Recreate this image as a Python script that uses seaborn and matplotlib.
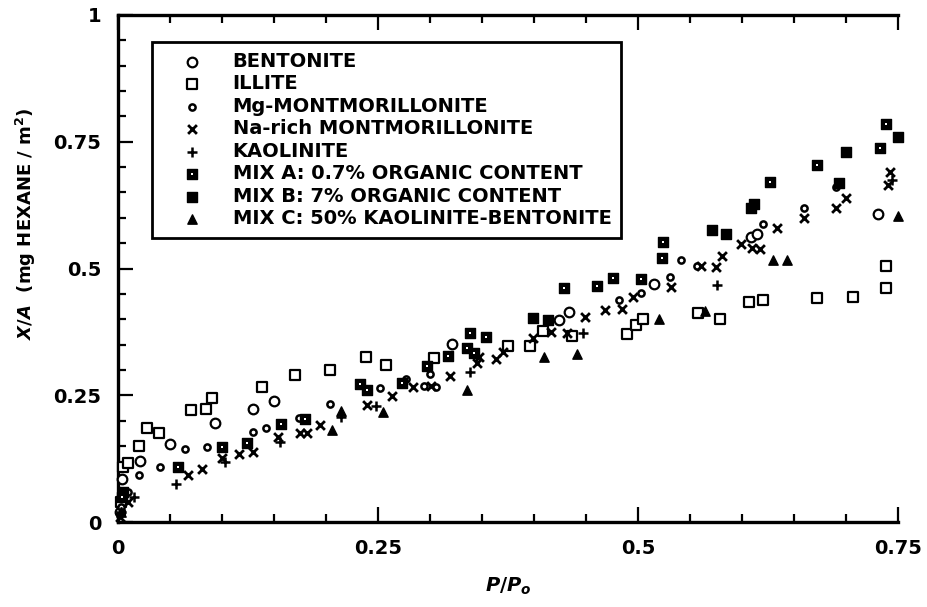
import matplotlib
matplotlib.use("Agg")
import matplotlib.pyplot as plt
import seaborn as sns
import pandas as pd
from matplotlib.ticker import MultipleLocator, FuncFormatter, FixedLocator
from matplotlib.legend_handler import HandlerTuple

# ---------------- data ----------------
bentonite_x = [0.002, 0.004, 0.021, 0.050, 0.093, 0.130, 0.150, 0.321, 0.424, 0.434, 0.515, 0.609, 0.614, 0.731]
bentonite_y = [0.020, 0.085, 0.120, 0.154, 0.195, 0.222, 0.239, 0.352, 0.398, 0.414, 0.470, 0.562, 0.569, 0.607]

illite_x = [0.003, 0.005, 0.010, 0.020, 0.028, 0.039, 0.070, 0.085, 0.090, 0.138, 0.170, 0.204, 0.238, 0.258,
            0.304, 0.375, 0.396, 0.409, 0.437, 0.489, 0.498, 0.505, 0.558, 0.579, 0.607, 0.620, 0.672, 0.707,
            0.738, 0.738]
illite_y = [0.040, 0.108, 0.117, 0.150, 0.186, 0.176, 0.220, 0.222, 0.244, 0.266, 0.290, 0.300, 0.326, 0.310,
            0.323, 0.347, 0.348, 0.377, 0.367, 0.371, 0.389, 0.400, 0.413, 0.400, 0.433, 0.438, 0.442, 0.444,
            0.461, 0.505]

mg_x = [0.003, 0.010, 0.020, 0.040, 0.064, 0.086, 0.130, 0.142, 0.174, 0.204, 0.252, 0.277, 0.294, 0.300,
        0.306, 0.482, 0.503, 0.531, 0.541, 0.557, 0.620, 0.660, 0.690]
mg_y = [0.030, 0.060, 0.093, 0.108, 0.144, 0.147, 0.177, 0.186, 0.206, 0.233, 0.265, 0.283, 0.268, 0.292,
        0.267, 0.438, 0.451, 0.483, 0.517, 0.505, 0.588, 0.620, 0.660]

na_x = [0.002, 0.010, 0.067, 0.081, 0.100, 0.116, 0.130, 0.154, 0.175, 0.182, 0.194, 0.239, 0.263, 0.284,
        0.301, 0.319, 0.345, 0.347, 0.363, 0.370, 0.399, 0.416, 0.432, 0.449, 0.468, 0.485, 0.495, 0.532,
        0.561, 0.575, 0.581, 0.599, 0.610, 0.617, 0.634, 0.660, 0.690, 0.700, 0.740, 0.742]
na_y = [0.010, 0.040, 0.093, 0.104, 0.126, 0.134, 0.139, 0.168, 0.175, 0.175, 0.191, 0.231, 0.249, 0.267,
        0.268, 0.288, 0.313, 0.326, 0.321, 0.336, 0.362, 0.375, 0.372, 0.405, 0.418, 0.420, 0.443, 0.463,
        0.505, 0.502, 0.525, 0.548, 0.540, 0.538, 0.579, 0.600, 0.620, 0.640, 0.665, 0.690]

kaol_x = [0.003, 0.015, 0.056, 0.103, 0.156, 0.214, 0.248, 0.338, 0.447, 0.576, 0.744]
kaol_y = [0.020, 0.050, 0.075, 0.119, 0.158, 0.208, 0.229, 0.296, 0.373, 0.468, 0.675]

mixa_x = [0.004, 0.058, 0.100, 0.124, 0.157, 0.180, 0.233, 0.239, 0.273, 0.297, 0.317, 0.336, 0.338, 0.342,
          0.354, 0.429, 0.461, 0.476, 0.503, 0.523, 0.524, 0.627, 0.672, 0.733, 0.738]
mixa_y = [0.050, 0.108, 0.147, 0.155, 0.193, 0.203, 0.272, 0.260, 0.275, 0.308, 0.327, 0.343, 0.373, 0.333,
          0.364, 0.461, 0.466, 0.481, 0.479, 0.520, 0.552, 0.671, 0.704, 0.738, 0.785]

mixb_x = [0.005, 0.399, 0.413, 0.571, 0.585, 0.609, 0.612, 0.693, 0.700, 0.750]
mixb_y = [0.060, 0.402, 0.398, 0.576, 0.568, 0.619, 0.627, 0.669, 0.730, 0.759]

mixc_x = [0.003, 0.206, 0.214, 0.255, 0.336, 0.410, 0.441, 0.520, 0.564, 0.630, 0.643, 0.750]
mixc_y = [0.020, 0.181, 0.218, 0.216, 0.260, 0.326, 0.331, 0.400, 0.417, 0.517, 0.517, 0.603]

labels = ["BENTONITE", "ILLITE", "Mg-MONTMORILLONITE", "Na-rich MONTMORILLONITE", "KAOLINITE",
          "MIX A: 0.7% ORGANIC CONTENT", "MIX B: 7% ORGANIC CONTENT", "MIX C: 50% KAOLINITE-BENTONITE"]

x_ticks = [0, 0.25, 0.5, 0.75]
y_ticks = [0, 0.25, 0.5, 0.75, 1]

# ---------------- figure ----------------
sns.set_theme(style="white")
plt.rcParams["font.family"] = ["DejaVu Sans"]
plt.rcParams["font.weight"] = "bold"

W, H = 927, 607
fig = plt.figure(figsize=(W / 100, H / 100), dpi=100)
L, R, T, B = 118, 898, 15, 522
ax = fig.add_axes([L / W, 1 - B / H, (R - L) / W, (B - T) / H])

K = "black"

def df(x, y):
    return pd.DataFrame({"x": x, "y": y})

sns.scatterplot(data=df(bentonite_x, bentonite_y), x="x", y="y", ax=ax, marker="o", s=48,
                facecolor="white", edgecolor=K, linewidth=1.6, label=labels[0], zorder=3, clip_on=False)
sns.scatterplot(data=df(illite_x, illite_y), x="x", y="y", ax=ax, marker="s", s=42,
                facecolor="white", edgecolor=K, linewidth=1.6, label=labels[1], zorder=3, clip_on=False)
sns.scatterplot(data=df(mg_x, mg_y), x="x", y="y", ax=ax, marker="o", s=20,
                facecolor="white", edgecolor=K, linewidth=1.8, label=labels[2], zorder=3, clip_on=False)
sns.scatterplot(data=df(na_x, na_y), x="x", y="y", ax=ax, marker="x", s=40,
                color=K, linewidth=2.0, label=labels[3], zorder=3, clip_on=False)
sns.scatterplot(data=df(kaol_x, kaol_y), x="x", y="y", ax=ax, marker="+", s=45,
                color=K, linewidth=1.8, label=labels[4], zorder=3, clip_on=False)
sns.scatterplot(data=df(mixa_x, mixa_y), x="x", y="y", ax=ax, marker="s", s=45,
                facecolor=K, edgecolor=K, linewidth=1.0, label=labels[5], zorder=3, clip_on=False)
sns.scatterplot(data=df(mixa_x, mixa_y), x="x", y="y", ax=ax, marker="s", s=3.5,
                facecolor="white", edgecolor="white", linewidth=0, label="mixa_dot", zorder=4, clip_on=False)
sns.scatterplot(data=df(mixb_x, mixb_y), x="x", y="y", ax=ax, marker="s", s=45,
                facecolor=K, edgecolor=K, linewidth=1.0, label=labels[6], zorder=3, clip_on=False)
sns.scatterplot(data=df(mixc_x, mixc_y), x="x", y="y", ax=ax, marker="^", s=45,
                facecolor=K, edgecolor=K, linewidth=1.0, label=labels[7], zorder=3, clip_on=False)

ax.set_xlim(0, 0.75)
ax.set_ylim(0, 1)
ax.xaxis.set_major_locator(FixedLocator(x_ticks))
ax.yaxis.set_major_locator(FixedLocator(y_ticks))
ax.xaxis.set_minor_locator(MultipleLocator(0.05))
ax.yaxis.set_minor_locator(MultipleLocator(0.05))
fmt = FuncFormatter(lambda v, p: f"{v:g}")
ax.xaxis.set_major_formatter(fmt)
ax.yaxis.set_major_formatter(fmt)

ax.tick_params(which="both", direction="in", top=True, right=False, bottom=True, left=True,
               color=K, width=1.6, labelsize=14, labelcolor=K)
ax.tick_params(which="major", length=11, pad=12)
ax.tick_params(which="minor", length=6)
for lab in ax.get_xticklabels() + ax.get_yticklabels():
    lab.set_fontweight("bold")
for name, sp in ax.spines.items():
    sp.set_visible(name != "right")
    sp.set_color(K)
    sp.set_linewidth(2.4)

ax.set_xlabel("$\\boldsymbol{P/P_o}$", fontsize=14, color=K)
ax.xaxis.set_label_coords(0.5, -0.105)
ax.set_ylabel("$\\boldsymbol{X/A}$  (mg HEXANE / m$^\\mathbf{2}$)", fontsize=13, fontweight="bold", color=K)
ax.yaxis.set_label_coords(-0.103, 0.588)

handles, labs = ax.get_legend_handles_labels()
hmap = dict(zip(labs, handles))
leg_handles = [hmap[l] for l in labels]
if "mixa_dot" in hmap:
    leg_handles[5] = (hmap[labels[5]], hmap["mixa_dot"])
leg = ax.legend(leg_handles, labels, loc="upper left", bbox_to_anchor=((152 - L) / (R - L), (B - 42) / (B - T)),
                fontsize=14, frameon=True, fancybox=False, edgecolor=K, framealpha=1,
                borderpad=0.5, labelspacing=0.18, handlelength=3.1, handletextpad=0.55, borderaxespad=0,
                handler_map={tuple: HandlerTuple(ndivide=1, pad=0)})
leg.get_frame().set_linewidth(2.0)
for t in leg.get_texts():
    t.set_fontweight("bold")
    t.set_color(K)

fig.savefig("out.png", dpi=100, facecolor="white")
